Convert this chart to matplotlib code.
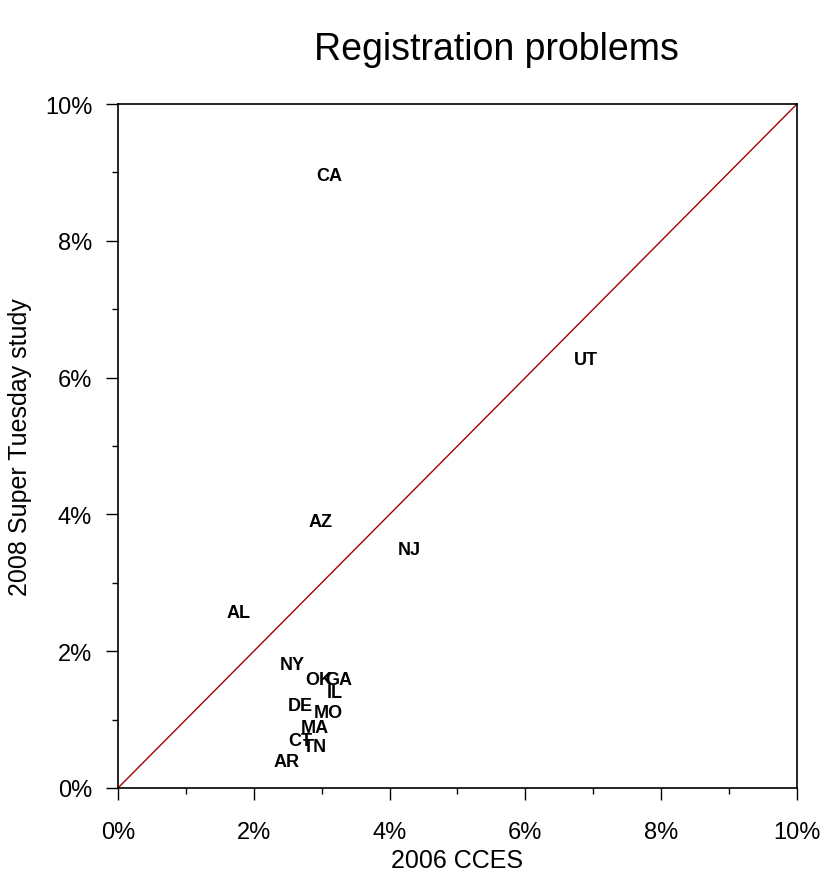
import matplotlib
matplotlib.use("Agg")
import matplotlib.pyplot as plt
from matplotlib.ticker import FuncFormatter, MultipleLocator

plt.rcParams["font.family"] = ["Liberation Sans", "DejaVu Sans"]

# state labels, 2006 CCES (x) vs 2008 Super Tuesday (y), in percent
states = ["CA", "UT", "AZ", "NJ", "AL", "NY", "OK", "GA", "IL", "DE", "MO", "MA", "CT", "TN", "AR"]
cces = [3.11, 6.89, 2.99, 4.29, 1.78, 2.57, 2.95, 3.25, 3.19, 2.68, 3.09, 2.90, 2.69, 2.90, 2.48]
super_tuesday = [8.95, 6.27, 3.89, 3.49, 2.57, 1.80, 1.58, 1.58, 1.39, 1.20, 1.11, 0.89, 0.70, 0.61, 0.39]

fig = plt.figure(figsize=(8.27, 8.78), dpi=100)
ax = fig.add_axes([0.1427, 0.1014, 0.821, 0.779])

ax.plot([0, 10], [0, 10], color="#a50000", lw=1)
for s, x, y in zip(states, cces, super_tuesday):
    ax.text(x, y, s, ha="center", va="center", fontsize=13, fontweight="bold")

ax.set_xlim(0, 10)
ax.set_ylim(0, 10)
pct = FuncFormatter(lambda v, p: "%d%%" % v)
for axis in (ax.xaxis, ax.yaxis):
    axis.set_major_locator(MultipleLocator(2))
    axis.set_minor_locator(MultipleLocator(1))
    axis.set_major_formatter(pct)
ax.tick_params(which="major", length=8.6, width=1, labelsize=17)
ax.tick_params(axis="x", which="major", pad=15)
ax.tick_params(axis="y", which="major", pad=10)
ax.tick_params(which="minor", length=4.3, width=1)
for sp in ax.spines.values():
    sp.set_linewidth(1.2)

ax.set_xlabel("2006 CCES", fontsize=18, labelpad=4)
ax.set_ylabel("2008 Super Tuesday study", fontsize=18, labelpad=9)
fig.text(0.6004, 1 - 60 / 878, "Registration problems", fontsize=27,
         ha="center", va="baseline")

fig.savefig("out.png", dpi=100)
